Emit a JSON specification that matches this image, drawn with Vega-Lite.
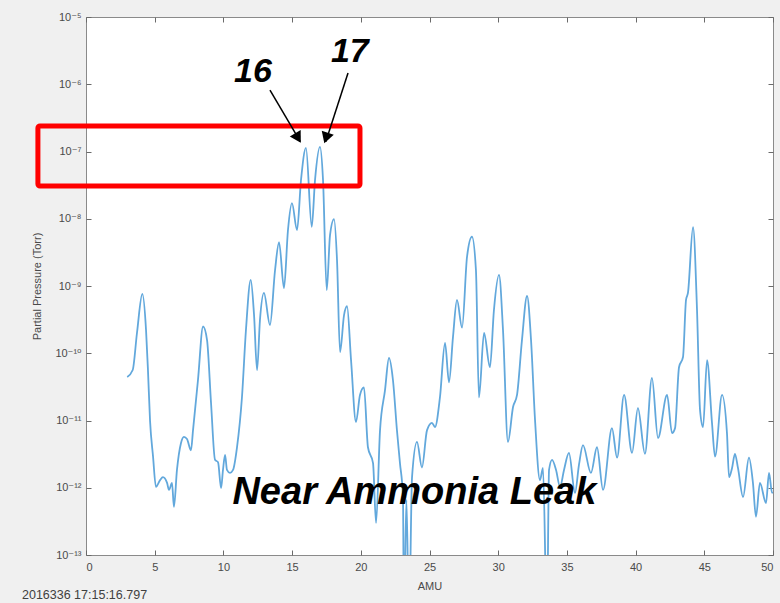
{
  "$schema": "https://vega.github.io/schema/vega-lite/v6.json",
  "width": 687,
  "height": 538,
  "autosize": {"type": "none"},
  "padding": {"left": 86, "top": 17, "right": 7, "bottom": 48},
  "background": "#f0f0f0",
  "config": {
    "view": {"fill": "white", "stroke": "#8a8a8a", "strokeWidth": 1},
    "font": "Liberation Sans",
    "axis": {"grid": false, "domain": false, "labelFont": "Liberation Sans, DejaVu Sans", "labelColor": "#4a4a4a", "labelFontSize": 11, "titleFont": "Liberation Sans", "titleColor": "#4a4a4a", "titleFontSize": 11, "titleFontWeight": "normal", "tickColor": "#6a6a6a", "tickSize": -5, "tickWidth": 1}
  },
  "datasets": {
    "spectrum": [
      {"amu": 3.0, "p": 4.44e-11}, {"amu": 3.4, "p": 5.64e-11}, {"amu": 3.71, "p": 2.0e-10}, {"amu": 4.1, "p": 7.6e-10}, {"amu": 4.37, "p": 2.2e-10}, {"amu": 4.51, "p": 5.6e-11}, {"amu": 4.66, "p": 1.0e-11}, {"amu": 4.88, "p": 2.9e-12}, {"amu": 5.09, "p": 1.03e-12}, {"amu": 5.39, "p": 1.3e-12}, {"amu": 5.6, "p": 1.44e-12}, {"amu": 5.9, "p": 1.18e-12}, {"amu": 6.04, "p": 9.3e-13}, {"amu": 6.26, "p": 1.18e-12}, {"amu": 6.4, "p": 5.2e-13}, {"amu": 6.62, "p": 1.84e-12}, {"amu": 6.91, "p": 4.6e-12}, {"amu": 7.13, "p": 5.7e-12}, {"amu": 7.35, "p": 5.3e-12}, {"amu": 7.64, "p": 3.6e-12}, {"amu": 7.79, "p": 7.2e-12}, {"amu": 8.15, "p": 4.0e-11}, {"amu": 8.52, "p": 2.5e-10}, {"amu": 8.81, "p": 1.57e-10}, {"amu": 9.1, "p": 1.82e-11}, {"amu": 9.39, "p": 2.6e-12}, {"amu": 9.61, "p": 2.4e-12}, {"amu": 9.83, "p": 9.9e-13}, {"amu": 9.97, "p": 1.84e-12}, {"amu": 10.12, "p": 3.07e-12}, {"amu": 10.26, "p": 1.84e-12}, {"amu": 10.48, "p": 1.66e-12}, {"amu": 10.7, "p": 1.84e-12}, {"amu": 10.99, "p": 4.0e-12}, {"amu": 11.35, "p": 2.2e-11}, {"amu": 11.64, "p": 2.2e-10}, {"amu": 11.99, "p": 1.23e-9}, {"amu": 12.23, "p": 3.7e-10}, {"amu": 12.45, "p": 5.6e-11}, {"amu": 12.66, "p": 3.1e-10}, {"amu": 12.95, "p": 7.9e-10}, {"amu": 13.39, "p": 2.63e-10}, {"amu": 13.76, "p": 1.73e-9}, {"amu": 14.05, "p": 4.5e-9}, {"amu": 14.41, "p": 9.3e-10}, {"amu": 14.7, "p": 6.8e-9}, {"amu": 14.99, "p": 1.71e-8}, {"amu": 15.36, "p": 6.8e-9}, {"amu": 15.65, "p": 3.8e-8}, {"amu": 16.01, "p": 1.13e-7}, {"amu": 16.43, "p": 7.6e-9}, {"amu": 16.67, "p": 3.8e-8}, {"amu": 17.03, "p": 1.17e-7}, {"amu": 17.25, "p": 3.8e-8}, {"amu": 17.52, "p": 8.7e-10}, {"amu": 17.76, "p": 5.7e-9}, {"amu": 18.05, "p": 9.9e-9}, {"amu": 18.27, "p": 2.4e-9}, {"amu": 18.49, "p": 1.04e-10}, {"amu": 18.78, "p": 3.7e-10}, {"amu": 19.0, "p": 5.0e-10}, {"amu": 19.29, "p": 7.9e-11}, {"amu": 19.65, "p": 9.5e-12}, {"amu": 19.94, "p": 2.4e-11}, {"amu": 20.23, "p": 3.1e-11}, {"amu": 20.52, "p": 4.0e-12}, {"amu": 20.89, "p": 2.33e-12}, {"amu": 21.11, "p": 3.0e-13}, {"amu": 21.4, "p": 7.2e-12}, {"amu": 21.76, "p": 2.8e-11}, {"amu": 22.05, "p": 8.5e-11}, {"amu": 22.34, "p": 4.0e-11}, {"amu": 22.63, "p": 7.2e-12}, {"amu": 22.85, "p": 2.33e-12}, {"amu": 23.07, "p": 7.3e-13}, {"amu": 23.14, "p": 1e-14}, {"amu": 23.32, "p": 6.6e-13}, {"amu": 23.51, "p": 1e-14}, {"amu": 23.73, "p": 1.44e-12}, {"amu": 24.09, "p": 4.8e-12}, {"amu": 24.45, "p": 2.0e-12}, {"amu": 24.82, "p": 7.2e-12}, {"amu": 25.18, "p": 9.2e-12}, {"amu": 25.4, "p": 8.0e-12}, {"amu": 25.76, "p": 2.2e-11}, {"amu": 26.13, "p": 1.42e-10}, {"amu": 26.42, "p": 3.7e-11}, {"amu": 26.71, "p": 1.75e-10}, {"amu": 27.0, "p": 6.2e-10}, {"amu": 27.37, "p": 2.4e-10}, {"amu": 27.73, "p": 2.7e-9}, {"amu": 28.09, "p": 5.4e-9}, {"amu": 28.38, "p": 1.73e-9}, {"amu": 28.6, "p": 2.2e-11}, {"amu": 28.97, "p": 2.0e-10}, {"amu": 29.4, "p": 6.2e-11}, {"amu": 29.69, "p": 4.4e-10}, {"amu": 30.06, "p": 1.46e-9}, {"amu": 30.35, "p": 2.2e-10}, {"amu": 30.71, "p": 4.8e-12}, {"amu": 31.08, "p": 1.59e-11}, {"amu": 31.37, "p": 2.4e-11}, {"amu": 31.73, "p": 1.57e-10}, {"amu": 32.1, "p": 7.1e-10}, {"amu": 32.39, "p": 1.57e-10}, {"amu": 32.68, "p": 1.02e-11}, {"amu": 33.04, "p": 1.3e-12}, {"amu": 33.26, "p": 1.97e-12}, {"amu": 33.55, "p": 1e-14}, {"amu": 33.7, "p": 1.84e-12}, {"amu": 33.92, "p": 2.6e-12}, {"amu": 34.21, "p": 1.84e-12}, {"amu": 34.5, "p": 1.03e-12}, {"amu": 34.79, "p": 1.84e-12}, {"amu": 35.15, "p": 3.3e-12}, {"amu": 35.59, "p": 8.4e-13}, {"amu": 35.88, "p": 2.2e-12}, {"amu": 36.17, "p": 4.3e-12}, {"amu": 36.75, "p": 1.66e-12}, {"amu": 37.19, "p": 4.0e-12}, {"amu": 37.63, "p": 9.3e-13}, {"amu": 38.28, "p": 7.7e-12}, {"amu": 38.65, "p": 2.8e-12}, {"amu": 39.16, "p": 2.4e-11}, {"amu": 39.74, "p": 3.3e-12}, {"amu": 40.17, "p": 1.53e-11}, {"amu": 40.68, "p": 3.2e-12}, {"amu": 41.19, "p": 4.3e-11}, {"amu": 41.63, "p": 5.5e-12}, {"amu": 42.29, "p": 2.4e-11}, {"amu": 42.65, "p": 6.5e-12}, {"amu": 42.87, "p": 7.7e-12}, {"amu": 43.16, "p": 6.2e-11}, {"amu": 43.45, "p": 8.8e-11}, {"amu": 43.67, "p": 6.2e-10}, {"amu": 43.81, "p": 7.9e-10}, {"amu": 44.18, "p": 7.5e-9}, {"amu": 44.47, "p": 4.4e-10}, {"amu": 44.69, "p": 1.43e-11}, {"amu": 44.91, "p": 8.0e-12}, {"amu": 45.2, "p": 7.9e-11}, {"amu": 45.56, "p": 9.2e-12}, {"amu": 45.78, "p": 2.9e-12}, {"amu": 46.29, "p": 2.4e-11}, {"amu": 46.65, "p": 6.5e-12}, {"amu": 46.8, "p": 1.44e-12}, {"amu": 47.02, "p": 1.97e-12}, {"amu": 47.23, "p": 3.2e-12}, {"amu": 47.45, "p": 1.97e-12}, {"amu": 47.82, "p": 7.3e-13}, {"amu": 48.25, "p": 2.8e-12}, {"amu": 48.54, "p": 1.18e-12}, {"amu": 48.76, "p": 3.7e-13}, {"amu": 49.05, "p": 1.18e-12}, {"amu": 49.49, "p": 5.9e-13}, {"amu": 49.71, "p": 1.66e-12}, {"amu": 49.93, "p": 8.4e-13}, {"amu": 50.0, "p": 8.6e-13}
    ],
    "box": [{"x1": -3.5, "x2": 19.94, "y1": 3.07e-8, "y2": 2.39e-7}],
    "labels": [
      {"amu": 12.15, "p": 1.52e-6, "label": "16"},
      {"amu": 19.2, "p": 3.0e-6, "label": "17"},
      {"amu": 23.9, "p": 8.4e-13, "label": "Near Ammonia Leak"}
    ],
    "arrow1": [{"x1": 13.39, "y1": 8.2e-7, "x2": 15.6, "y2": 1.4e-7}],
    "arrow1head": [{"amu": 15.43, "p": 1.59e-7}],
    "arrow2": [{"x1": 19.07, "y1": 1.47e-6, "x2": 17.45, "y2": 1.4e-7}],
    "arrow2head": [{"amu": 17.47, "p": 1.59e-7}],
    "stamp": [{"amu": -4.66, "p": 2.54e-14, "label": "2016336 17:15:16.797"}]
  },
  "resolve": {"axis": {"x": "independent", "y": "independent"}},
  "layer": [
    {
      "data": {"name": "spectrum"},
      "mark": {"type": "line", "color": "#62a8dc", "strokeWidth": 1.8, "interpolate": "monotone", "clip": true},
      "encoding": {
        "x": {"field": "amu", "type": "quantitative", "scale": {"domain": [0, 50], "nice": false, "zero": false},
              "axis": {"orient": "bottom", "title": "AMU", "values": [0, 5, 10, 15, 20, 25, 30, 35, 40, 45, 50], "labelPadding": 11, "titlePadding": 8}},
        "y": {"field": "p", "type": "quantitative", "scale": {"type": "log", "domain": [1e-13, 1e-5], "nice": false},
              "axis": {"orient": "left", "title": "Partial Pressure (Torr)", "values": [1e-13, 1e-12, 1e-11, 1e-10, 1e-9, 1e-8, 1e-7, 1e-6, 1e-5],
                       "labelExpr": "'10' + ['⁻¹³','⁻¹²','⁻¹¹','⁻¹⁰','⁻⁹','⁻⁸','⁻⁷','⁻⁶','⁻⁵'][round(log(datum.value)/LN10)+13]", "labelPadding": 10, "titlePadding": 12}}
      }
    },
    {
      "data": {"name": "box"},
      "mark": {"type": "rect", "fill": null, "fillOpacity": 0, "stroke": "#ff0000", "strokeWidth": 5, "cornerRadius": 2, "clip": false},
      "encoding": {
        "x": {"field": "x1", "type": "quantitative", "axis": {"orient": "top", "labels": false, "title": null, "values": [0, 5, 10, 15, 20, 25, 30, 35, 40, 45, 50]}},
        "x2": {"field": "x2"},
        "y": {"field": "y1", "type": "quantitative", "axis": {"orient": "right", "labels": false, "title": null, "values": [1e-13, 1e-12, 1e-11, 1e-10, 1e-9, 1e-8, 1e-7, 1e-6, 1e-5]}},
        "y2": {"field": "y2"}
      }
    },
    {
      "data": {"name": "arrow1"},
      "mark": {"type": "rule", "color": "black", "strokeWidth": 1.5, "clip": false},
      "encoding": {
        "x": {"field": "x1", "type": "quantitative", "axis": null}, "x2": {"field": "x2"},
        "y": {"field": "y1", "type": "quantitative", "axis": null}, "y2": {"field": "y2"}
      }
    },
    {
      "data": {"name": "arrow2"},
      "mark": {"type": "rule", "color": "black", "strokeWidth": 1.5, "clip": false},
      "encoding": {
        "x": {"field": "x1", "type": "quantitative", "axis": null}, "x2": {"field": "x2"},
        "y": {"field": "y1", "type": "quantitative", "axis": null}, "y2": {"field": "y2"}
      }
    },
    {
      "data": {"name": "arrow1head"},
      "mark": {"type": "point", "shape": "triangle-up", "filled": true, "color": "black", "opacity": 1, "size": 160, "angle": 149.5, "clip": false},
      "encoding": {
        "x": {"field": "amu", "type": "quantitative", "axis": null},
        "y": {"field": "p", "type": "quantitative", "axis": null}
      }
    },
    {
      "data": {"name": "arrow2head"},
      "mark": {"type": "point", "shape": "triangle-up", "filled": true, "color": "black", "opacity": 1, "size": 160, "angle": 198.2, "clip": false},
      "encoding": {
        "x": {"field": "amu", "type": "quantitative", "axis": null},
        "y": {"field": "p", "type": "quantitative", "axis": null}
      }
    },
    {
      "data": {"name": "labels"},
      "transform": [{"filter": "datum.label != 'Near Ammonia Leak'"}],
      "mark": {"type": "text", "font": "Liberation Sans", "fontWeight": "bold", "fontStyle": "italic", "fontSize": 34, "color": "black", "align": "center", "baseline": "middle", "clip": false},
      "encoding": {
        "x": {"field": "amu", "type": "quantitative", "axis": null},
        "y": {"field": "p", "type": "quantitative", "axis": null},
        "text": {"field": "label"}
      }
    },
    {
      "data": {"name": "labels"},
      "transform": [{"filter": "datum.label == 'Near Ammonia Leak'"}],
      "mark": {"type": "text", "font": "Liberation Sans", "fontWeight": "bold", "fontStyle": "italic", "fontSize": 38, "color": "black", "align": "center", "baseline": "middle", "clip": false},
      "encoding": {
        "x": {"field": "amu", "type": "quantitative", "axis": null},
        "y": {"field": "p", "type": "quantitative", "axis": null},
        "text": {"field": "label"}
      }
    },
    {
      "data": {"name": "stamp"},
      "mark": {"type": "text", "font": "Liberation Sans", "fontSize": 12.5, "color": "#404040", "align": "left", "baseline": "middle", "clip": false},
      "encoding": {
        "x": {"field": "amu", "type": "quantitative", "axis": null},
        "y": {"field": "p", "type": "quantitative", "axis": null},
        "text": {"field": "label"}
      }
    }
  ]
}
